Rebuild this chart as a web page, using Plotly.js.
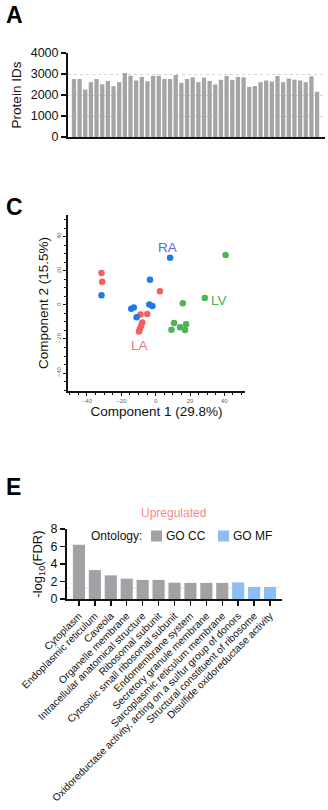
<!DOCTYPE html>
<html><head><meta charset="utf-8">
<script src="https://cdn.plot.ly/plotly-3.0.1.min.js"></script>
<style>html,body{margin:0;padding:0;background:#fff}#chart{width:328px;height:810px}</style>
</head><body><div id="chart"></div>
<script>
// ---- Panel A data ----
const proteinIDs = [2760,2760,2260,2610,2760,2510,2670,2420,2610,3050,2920,2690,2860,2650,2910,2910,2760,2760,2950,2580,2760,2840,
                    2610,2830,2670,2500,2720,2910,2720,2860,2840,2390,2430,2610,2690,2640,2910,2610,2780,2730,2690,2610,2890,2150];
const sampleIdx = proteinIDs.map((_, i) => i);
const proteinTicks = [0, 1000, 2000, 3000, 4000];
const proteinGrid = [1000, 2000, 3000];

// ---- Panel C data (PCA) ----
const laX = [-31.5,-31.1,2.5,-8.8,-4.9,-7.8,-8.4,-9.2,-9.7];
const laY = [18.7,13.6,8.0,-5.7,-5.3,-10.4,-12.3,-14.2,-15.6];
const raX = [-31.5,-3.3,8.4,-14.2,-12.7,-11.1,-3.7,-1.9];
const raY = [5.7,14.8,27.7,-2.3,-1.6,-7.2,0.2,-0.6];
const lvX = [40.7,28.6,15.8,10.7,9.2,14.2,17.7,17.1];
const lvY = [29.3,4.1,1.0,-10.7,-14.6,-13.1,-11.3,-14.8];
const pcaTicks = [-40,-20,0,20,40];
const groupLabels = [
  {text:'RA', x:6.8, y:33.8},
  {text:'LV', x:36.8, y:2.6},
  {text:'LA', x:-9.3, y:-23.6}
];

// ---- Panel E data (GO enrichment) ----
const ccTerms = ['Cytoplasm','Endoplasmic reticulum','Caveola','Organelle membrane',
  'Intracellular anatomical structure','Ribosomal subunit','Cytosolic small ribosomal subunit',
  'Endomembrane system','Secretory granule membrane','Sarcoplasmic reticulum membrane'];
const ccValues = [6.2,3.3,2.7,2.32,2.18,2.18,1.87,1.84,1.84,1.84];
const mfTerms = ['Oxidoreductase activity, acting on a sulfur group of donors',
  'Structural constituent of ribosome','Disulfide oxidoreductase activity'];
const mfValues = [1.9,1.38,1.38];
const allTerms = ccTerms.concat(mfTerms);
const fdrTicks = [0,2,4,6,8];
const fdrThreshold = 1.3;

// ---- helpers (pixel -> paper) ----
const W = 328, H = 810;
const fx = p => p / W;
const fy = p => 1 - p / H;
const FONT = 'Arial, "Liberation Sans", sans-serif';

const cRed = '#f26060', cBlue = '#1f7ae8', cGreen = '#4cb356';
const grayBar = '#a2a2a6', blueBar = '#8dbdf5';

const traces = [
  {type:'bar', x:sampleIdx, y:proteinIDs, xaxis:'x', yaxis:'y',
   marker:{color:'#a5a5a8'}, showlegend:false, hoverinfo:'y'},
  {type:'scatter', mode:'markers', x:laX, y:laY, xaxis:'x2', yaxis:'y2', name:'LA',
   marker:{color:cRed, size:6.5}, showlegend:false},
  {type:'scatter', mode:'markers', x:raX, y:raY, xaxis:'x2', yaxis:'y2', name:'RA',
   marker:{color:cBlue, size:6.5}, showlegend:false},
  {type:'scatter', mode:'markers', x:lvX, y:lvY, xaxis:'x2', yaxis:'y2', name:'LV',
   marker:{color:cGreen, size:6.5}, showlegend:false},
  {type:'bar', x:ccTerms, y:ccValues, xaxis:'x3', yaxis:'y3', name:'GO CC',
   marker:{color:grayBar}, showlegend:false},
  {type:'bar', x:mfTerms, y:mfValues, xaxis:'x3', yaxis:'y3', name:'GO MF',
   marker:{color:blueBar}, showlegend:false}
];

const axisLine = {showline:true, linecolor:'#111', linewidth:2, zeroline:false, automargin:false};

const annotations = [
  {text:'<b>A</b>', xref:'paper', yref:'paper', x:fx(4), y:fy(15), xanchor:'left', yanchor:'middle', showarrow:false, font:{size:23, color:'#000', family:FONT}},
  {text:'<b>C</b>', xref:'paper', yref:'paper', x:fx(4), y:fy(207), xanchor:'left', yanchor:'middle', showarrow:false, font:{size:23, color:'#000', family:FONT}},
  {text:'<b>E</b>', xref:'paper', yref:'paper', x:fx(4), y:fy(487), xanchor:'left', yanchor:'middle', showarrow:false, font:{size:23, color:'#000', family:FONT}},
  {text:'Upregulated', xref:'paper', yref:'paper', x:fx(173), y:fy(513), xanchor:'center', yanchor:'middle', showarrow:false, font:{size:12, color:'#f28a8a', family:FONT}},
  {text:'Ontology:', xref:'paper', yref:'paper', x:fx(89), y:fy(536), xanchor:'left', yanchor:'middle', showarrow:false, font:{size:12, color:'#111', family:FONT}},
  {text:'GO CC', xref:'paper', yref:'paper', x:fx(164), y:fy(536), xanchor:'left', yanchor:'middle', showarrow:false, font:{size:12, color:'#111', family:FONT}},
  {text:'GO MF', xref:'paper', yref:'paper', x:fx(231), y:fy(536), xanchor:'left', yanchor:'middle', showarrow:false, font:{size:12, color:'#111', family:FONT}}
];
const groupColors = {RA:'#6262e6', LV:'#3cb44b', LA:'#f27474'};
groupLabels.forEach(g => annotations.push({
  text:g.text, xref:'x2', yref:'y2', x:g.x, y:g.y, showarrow:false,
  font:{size:13.5, color:groupColors[g.text], family:FONT}
}));

const shapes = [
  {type:'rect', xref:'paper', yref:'paper', x0:fx(151), x1:fx(162), y0:fy(541.5), y1:fy(530.5), fillcolor:grayBar, line:{width:0}},
  {type:'rect', xref:'paper', yref:'paper', x0:fx(218), x1:fx(229), y0:fy(541.5), y1:fy(530.5), fillcolor:blueBar, line:{width:0}},
  {type:'line', xref:'x3 domain', yref:'y3', x0:0, x1:1, y0:fdrThreshold, y1:fdrThreshold, line:{color:'#dde3ea', width:1, dash:'dot'}, layer:'below'}
];

const layout = {
  width:W, height:H, margin:{l:0, r:0, t:0, b:0},
  paper_bgcolor:'#fff', plot_bgcolor:'rgba(0,0,0,0)',
  font:{family:FONT, color:'#111'},
  showlegend:false,
  bargap:0.24,
  // Panel A
  xaxis:Object.assign({}, axisLine, {domain:[fx(68), fx(325)], range:[-1.05, 44.4], showticklabels:false, ticks:'', showgrid:false, anchor:'y'}),
  yaxis:Object.assign({}, axisLine, {domain:[fy(137), fy(53)], range:[0, 4000], tickvals:proteinTicks, ticks:'outside', ticklen:5, tickwidth:1.5, tickcolor:'#111',
     showgrid:false, tickfont:{size:12.5, color:'#111'}, anchor:'x',
     minor:{tickvals:proteinGrid, showgrid:true, gridcolor:'#d6d6d6', griddash:'dot', gridwidth:1, ticks:''},
     title:{text:'Protein IDs', font:{size:13.5, color:'#111'}, standoff:6}}),
  // Panel C
  xaxis2:Object.assign({}, axisLine, {domain:[fx(68), fx(245)], range:[-51, 52], tickvals:pcaTicks, ticks:'outside', ticklen:3, tickwidth:1, tickcolor:'#111',
     showgrid:false, tickfont:{size:6, color:'#666'}, anchor:'y2',
     minor:{dtick:5, ticks:'outside', ticklen:2, tickcolor:'#111', showgrid:false},
     title:{text:'Component 1 (29.8%)', font:{size:13.5, color:'#111'}, standoff:3}}),
  yaxis2:Object.assign({}, axisLine, {domain:[fy(391), fy(215)], range:[-50.5, 52.7], tickvals:pcaTicks, ticks:'outside', ticklen:3, tickwidth:1, tickcolor:'#111',
     showgrid:false, tickfont:{size:6, color:'#666'}, tickangle:-90, anchor:'x2',
     minor:{dtick:5, ticks:'outside', ticklen:2, tickcolor:'#111', showgrid:false},
     title:{text:'Component 2 (15.5%)', font:{size:13.5, color:'#111'}, standoff:4}}),
  // Panel E
  xaxis3:Object.assign({}, axisLine, {domain:[fx(67), fx(282)], range:[-0.75, 12.75], type:'category', categoryorder:'array', categoryarray:allTerms,
     ticks:'outside', ticklen:5, tickwidth:1.5, tickcolor:'#111', tickangle:-45, showgrid:false,
     tickfont:{size:10.2, color:'#111'}, anchor:'y3'}),
  yaxis3:Object.assign({}, axisLine, {domain:[fy(599), fy(529)], range:[0, 8], tickvals:fdrTicks, ticks:'outside', ticklen:5, tickwidth:1.5, tickcolor:'#111',
     showgrid:false, tickfont:{size:12.5, color:'#111'}, anchor:'x3',
     title:{text:'-log<sub>10</sub>(FDR)', font:{size:13, color:'#111'}, standoff:5}}),
  annotations:annotations,
  shapes:shapes
};

Plotly.newPlot('chart', traces, layout, {staticPlot:true, displayModeBar:false});
</script></body></html>
